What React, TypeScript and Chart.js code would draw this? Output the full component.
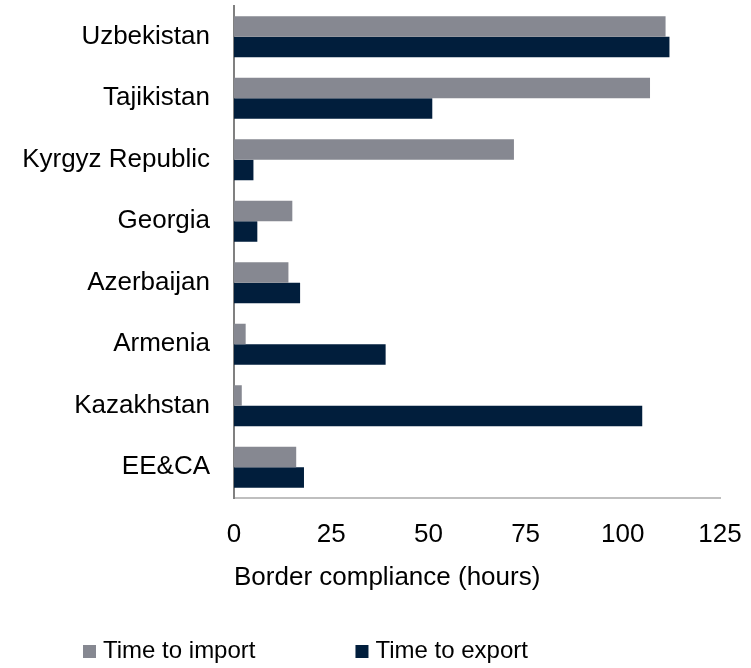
import { useEffect, useRef } from "react";
import { Chart, registerables } from "chart.js";

Chart.register(...registerables);

const categories = [
  "Uzbekistan",
  "Tajikistan",
  "Kyrgyz Republic",
  "Georgia",
  "Azerbaijan",
  "Armenia",
  "Kazakhstan",
  "EE&CA",
];
const timeToImport = [111, 107, 72, 15, 14, 3, 2, 16];
const timeToExport = [112, 51, 5, 6, 17, 39, 105, 18];
const seriesNames = ["Time to import", "Time to export"];
const seriesColors = ["#868891", "#011E3C"];
const xMin = 0;
const xMax = 125;
const xStep = 25;
const axisTitle = "Border compliance (hours)";

const FONT = "'Liberation Sans', Arial, sans-serif";

const bottomLegend = {
  id: "bottomLegend",
  afterDraw(chart: any) {
    const ctx = chart.ctx;
    ctx.save();
    ctx.font = `24px ${FONT}`;
    ctx.textBaseline = "middle";
    ctx.textAlign = "left";
    let x = 83;
    const y = chart.height - 17;
    chart.data.datasets.forEach((ds: any) => {
      ctx.fillStyle = ds.backgroundColor;
      ctx.fillRect(x, y - 6, 13, 13);
      ctx.fillStyle = "#000";
      ctx.fillText(ds.label, x + 20, y);
      x += 20 + ctx.measureText(ds.label).width + 100;
    });
    ctx.restore();
  },
};

export default function App() {
  const canvasRef = useRef<HTMLCanvasElement | null>(null);

  useEffect(() => {
    if (!canvasRef.current) return;
    const chart = new Chart(canvasRef.current, {
      type: "bar",
      data: {
        labels: categories,
        datasets: [
          {
            label: seriesNames[0],
            data: timeToImport,
            backgroundColor: seriesColors[0],
            categoryPercentage: 0.667,
            barPercentage: 1,
          },
          {
            label: seriesNames[1],
            data: timeToExport,
            backgroundColor: seriesColors[1],
            categoryPercentage: 0.667,
            barPercentage: 1,
          },
        ],
      },
      options: {
        indexAxis: "y",
        responsive: false,
        animation: false,
        devicePixelRatio: 1,
        layout: { padding: { top: 6, right: 31, bottom: 74.6, left: 0 } },
        plugins: {
          legend: { display: false },
          tooltip: { enabled: false },
        },
        scales: {
          x: {
            type: "linear",
            min: xMin,
            max: xMax,
            ticks: {
              stepSize: xStep,
              color: "#000",
              font: { size: 26, family: FONT },
              padding: 21,
            },
            grid: { display: false, drawTicks: false },
            border: { display: true, color: "#BFBFBF", width: 2 },
            title: {
              display: true,
              text: axisTitle,
              align: "start",
              color: "#000",
              font: { size: 26, family: FONT },
              padding: { top: -9, bottom: 0 },
            },
            afterFit: (scale: any) => {
              scale.paddingLeft = 0;
              scale.paddingRight = 0;
            },
          },
          y: {
            ticks: {
              color: "#000",
              font: { size: 26, family: FONT },
              padding: 24,
            },
            grid: { display: false, drawTicks: false },
            border: { display: true, color: "#808080", width: 2 },
            afterFit: (scale: any) => {
              scale.width = 234;
              scale.paddingTop = 0;
              scale.paddingBottom = 0;
            },
          },
        },
      } as any,
      plugins: [bottomLegend],
    });
    return () => chart.destroy();
  }, []);

  return (
    <div style={{ position: "fixed", left: 0, top: 0, width: 751, height: 668, background: "#fff" }}>
      <canvas ref={canvasRef} width={751} height={668} />
    </div>
  );
}
